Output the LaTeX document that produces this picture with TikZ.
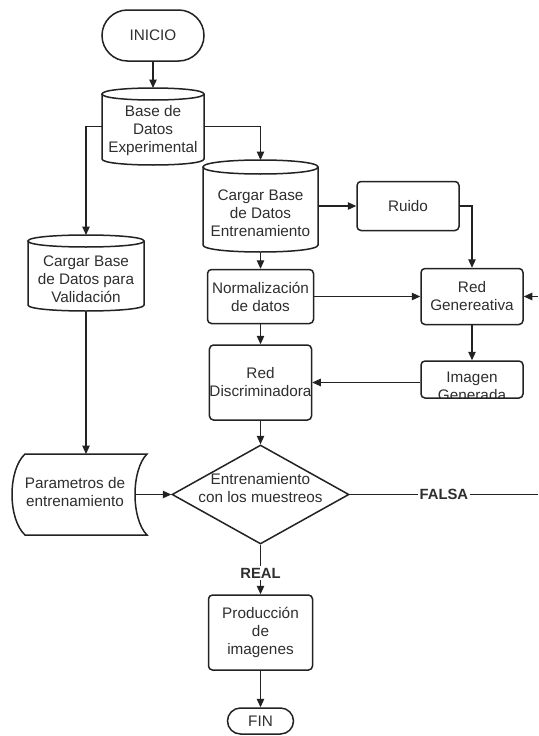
\documentclass[tikz,border=0pt]{standalone}
\usepackage{fontspec}
\setmainfont{Liberation Sans}
\usetikzlibrary{shapes.geometric,shapes.misc,arrows.meta}
\definecolor{ln}{HTML}{222222}
\definecolor{tx}{HTML}{2E2E2E}
\tikzset{
 shp/.style={draw=ln, line width=1.5pt},
 procbox/.style={shp, rectangle, rounded corners=4pt, inner sep=0pt},
 term/.style={shp, rounded rectangle, inner sep=0pt},
 lbl/.style={text=tx, font=\fontsize{15.3}{18}\selectfont, align=center, inner sep=0pt},
 conn/.style={draw=ln, line width=1.1pt, -{Triangle[length=8.5pt,width=7.5pt]}},
 plain/.style={draw=ln, line width=1.1pt},
 yes/.style={text=tx, font=\fontsize{14.8}{18}\selectfont\bfseries, inner sep=2pt, fill=white},
}
\newcommand{\dbcyl}[6]{%
 \pgfmathsetmacro{\cyL}{#2-#4/2}\pgfmathsetmacro{\cyR}{#2+#4/2}%
 \pgfmathsetmacro{\cyT}{#3-#5/2+#6}\pgfmathsetmacro{\cyB}{#3+#5/2-#6}%
 \pgfmathsetmacro{\cyK}{1.3333*#6}%
 \node[minimum width=#4pt, minimum height=#5pt, inner sep=0pt, outer sep=0pt] (#1) at (#2,#3) {};
 \draw[shp] (\cyL,\cyT) .. controls (\cyL,\cyT-\cyK) and (\cyR,\cyT-\cyK) .. (\cyR,\cyT) .. controls (\cyR,\cyT+\cyK) and (\cyL,\cyT+\cyK) .. (\cyL,\cyT) -- cycle;
 \draw[shp] (\cyL,\cyT) -- (\cyL,\cyB) .. controls (\cyL,\cyB+\cyK) and (\cyR,\cyB+\cyK) .. (\cyR,\cyB) -- (\cyR,\cyT);
}
\begin{document}
\begin{tikzpicture}[x=1pt,y=-1pt]
\useasboundingbox (0,0) rectangle (538,736);

% terminators
\node[term, lbl, minimum width=102pt, minimum height=51pt] (ini) at (153,35.5) {INICIO};
\node[term, lbl, minimum width=66pt, minimum height=26pt] (fin) at (260.5,721) {FIN};

% cylinders
\dbcyl{bde}{153}{126.5}{102}{77}{6}
\node[lbl] at (153,131) {Base de\\Datos\\Experimental};
\dbcyl{cbe}{260.5}{206}{115}{92}{7}
\node[lbl] at (260.5,213.5) {Cargar Base\\de Datos\\Entrenamiento};
\dbcyl{val}{86}{273}{116}{76}{6}
\node[lbl] at (86,279.5) {Cargar Base\\de Datos para\\Validación};

% process boxes
\node[procbox, lbl, minimum width=102pt, minimum height=49pt] (ruido) at (408,206) {Ruido};
\node[procbox, lbl, minimum width=106pt, minimum height=54pt] (norm) at (260.5,296.5) {Normalización\\de datos};
\node[procbox, lbl, minimum width=102pt, minimum height=56pt] (rg) at (472,296.5) {Red\\Genereativa};
\node[procbox, lbl, minimum width=102pt, minimum height=75pt] (rd) at (260.5,382.5) {Red\\Discriminadora};
\begin{scope}
 \clip (421,361) rectangle (523,397.5);
 \node[lbl] at (472,386) {Imagen\\Generada};
\end{scope}
\node[procbox, minimum width=102pt, minimum height=37pt] (img) at (472,379.5) {};
\node[procbox, lbl, minimum width=104pt, minimum height=75pt] (prod) at (260.5,632.5) {Producción\\de\\imagenes};

% stored data
\node[minimum width=123pt, minimum height=81pt, inner sep=0pt, outer sep=0pt] (par) at (73.5,494.5) {};
\draw[shp] (25,454) -- (147,454) .. controls (131,470) and (131,519) .. (147,535) -- (25,535) .. controls (7.7,519) and (7.7,470) .. (25,454) -- cycle;
\node[lbl] at (75,492) {Parametros de\\entrenamiento};

% decision
\node[shp, diamond, minimum width=177pt, minimum height=99pt, inner sep=0pt] (dia) at (260.5,494.5) {};
\node[lbl] at (260.5,488) {Entrenamiento\\con los muestreos};

% edge coordinates
\coordinate (rt1) at (538,494.5);
\coordinate (rt2) at (538,296.5);

% connectors
\draw[conn] (ini.south) -- (bde.north);
\draw[conn] (bde.west) -| (val.north);
\draw[conn] (bde.east) -| (cbe.north);
\draw[conn] (cbe.east) -- (ruido.west);
\draw[conn] (ruido.east) -| (rg.north);
\draw[conn] (cbe.south) -- (norm.north);
\draw[conn] (norm.east) -- (rg.west);
\draw[conn] (rg.south) -- (img.north);
\draw[conn] (img.west |- rd.east) -- (rd.east);
\draw[conn] (norm.south) -- (rd.north);
\draw[conn] (rd.south) -- (dia.north);
\draw[conn] (val.south) -- (val.south |- par.north);
\draw[conn] (par.east) -- (dia.west);
\draw[plain] (dia.east) -- (rt1) node[pos=0.5, yes] {FALSA};
\draw[conn] (rt2) -- (rg.east);
\draw[conn] (dia.south) -- (prod.north) node[pos=0.57, yes] {REAL};
\draw[conn] (prod.south) -- (fin.north);
\end{tikzpicture}
\end{document}
